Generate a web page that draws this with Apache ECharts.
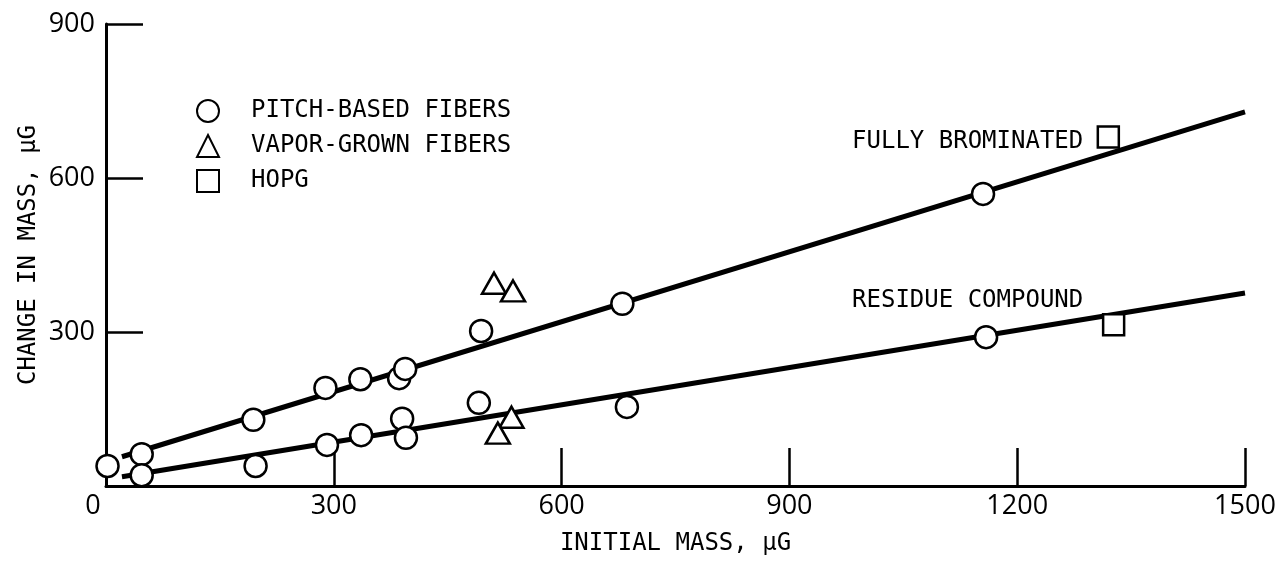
<!DOCTYPE html>
<html>
<head>
<meta charset="utf-8">
<script src="https://cdn.jsdelivr.net/npm/echarts@6/dist/echarts.min.js"></script>
<style>
  html, body { margin: 0; padding: 0; background: #fff; }
  #chart { width: 1288px; height: 561px; }
</style>
</head>
<body>
<div id="chart"></div>
<script>
// [initial mass, change in mass] in μg
const pitchFibers = [
    [2, 39], [47, 62], [47, 21], [194, 129], [197, 39],
    [289, 191], [291, 80], [335, 208], [336, 99],
    [386, 210], [394, 228], [390, 131], [395, 94],
    [494, 302], [491, 162], [680, 355], [686, 154],
    [1155, 569], [1159, 290]
];
const vaporFibers = [[511, 395], [536, 380], [534, 134], [516, 103]];
const hopg = [[1320, 680], [1327, 314]];
// fitted lines (end points)
const fullyBrominated = [[21, 57], [1500, 729]];
const residueCompound = [[21, 18], [1500, 376]];
const xTicks = [0, 300, 600, 900, 1200, 1500];
const yTicks = [0, 300, 600, 900];

const monoFont = '"DejaVu Sans Mono", monospace';
const numFont = '"Open Sans", sans-serif';

const markerStyle = {
    color: '#fff',
    borderColor: '#000',
    borderWidth: 2.5,
    opacity: 1
};

const lineSeries = (name, data, labelAt) => ({
    name: name,
    type: 'line',
    data: data,
    showSymbol: false,
    silent: true,
    z: 1,
    lineStyle: { color: '#000', width: 5 },
    markPoint: {
        symbol: 'circle',
        symbolSize: 0,
        silent: true,
        data: [{ coord: labelAt }],
        label: {
            show: true,
            position: 'left',
            distance: 0,
            formatter: name,
            color: '#000',
            fontFamily: monoFont,
            fontSize: 24
        }
    }
});

const chart = echarts.init(document.getElementById('chart'));
const option = {
    backgroundColor: '#fff',
    animation: false,
    grid: {
        left: 106,
        right: 43,
        top: 24,
        bottom: 75
    },
    legend: {
        data: ['PITCH-BASED FIBERS', 'VAPOR-GROWN FIBERS', 'HOPG'],
        orient: 'vertical',
        left: 191,
        top: 94,
        itemWidth: 22,
        itemHeight: 22,
        itemGap: 11,
        selectedMode: false,
        textStyle: {
            color: '#000',
            fontFamily: monoFont,
            fontSize: 24,
            padding: [0, 0, 0, 27]
        }
    },
    xAxis: {
        type: 'value',
        min: xTicks[0],
        max: xTicks[xTicks.length - 1],
        interval: 300,
        name: 'INITIAL MASS, μG',
        nameLocation: 'middle',
        nameGap: 46,
        nameTextStyle: { color: '#000', fontFamily: monoFont, fontSize: 24 },
        splitLine: { show: false },
        axisLine: { lineStyle: { color: '#000', width: 3 } },
        axisTick: { inside: true, length: 38, lineStyle: { color: '#000', width: 2.5 } },
        axisLabel: {
            color: '#000',
            fontFamily: numFont,
            fontSize: 27,
            margin: 7,
            formatter: v => v === 0 ? '{z|0}' : String(v),
            rich: { z: { fontFamily: numFont, fontSize: 27, color: '#000', padding: [0, 26, 0, 0] } }
        }
    },
    yAxis: {
        type: 'value',
        min: yTicks[0],
        max: yTicks[yTicks.length - 1],
        interval: 300,
        name: 'CHANGE IN MASS, μG',
        nameLocation: 'middle',
        nameGap: 65,
        nameMoveOverlap: false,
        nameTextStyle: { color: '#000', fontFamily: monoFont, fontSize: 24 },
        splitLine: { show: false },
        axisLine: { show: true, lineStyle: { color: '#000', width: 3 } },
        axisTick: { show: true, inside: true, length: 37, lineStyle: { color: '#000', width: 2.5 } },
        axisLabel: {
            color: '#000',
            fontFamily: numFont,
            fontSize: 27,
            margin: 11,
            showMinLabel: false
        }
    },
    series: [
        lineSeries('FULLY BROMINATED', fullyBrominated, [1287, 670]),
        lineSeries('RESIDUE COMPOUND', residueCompound, [1287, 360]),
        {
            name: 'PITCH-BASED FIBERS',
            type: 'scatter',
            symbol: 'circle',
            symbolSize: 22,
            z: 3,
            itemStyle: markerStyle,
            data: pitchFibers
        },
        {
            name: 'VAPOR-GROWN FIBERS',
            type: 'scatter',
            symbol: 'triangle',
            symbolSize: [24, 21],
            z: 3,
            itemStyle: markerStyle,
            data: vaporFibers
        },
        {
            name: 'HOPG',
            type: 'scatter',
            symbol: 'rect',
            symbolSize: 21,
            z: 3,
            itemStyle: markerStyle,
            data: hopg
        }
    ]
};

chart.setOption(option);
</script>
</body>
</html>
